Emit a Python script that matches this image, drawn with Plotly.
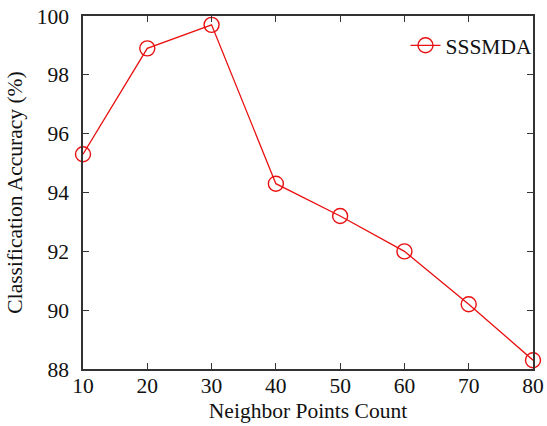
import plotly.graph_objects as go

# Neighbor count vs. classification accuracy
neighbor_counts = [10, 20, 30, 40, 50, 60, 70, 80]
accuracy_sssmda = [95.3, 98.9, 99.7, 94.3, 93.2, 92.0, 90.2, 88.3]
x_ticks = [10, 20, 30, 40, 50, 60, 70, 80]
y_ticks = [88, 90, 92, 94, 96, 98, 100]

RED = "#e81010"
AXIS = "#333333"
FONT = "Liberation Serif"
FS = 21.5

fig = go.Figure()
fig.add_trace(go.Scatter(
    x=neighbor_counts,
    y=accuracy_sssmda,
    mode="lines+markers",
    name="SSSMDA",
    line=dict(color=RED, width=1.3),
    marker=dict(symbol="circle-open", size=15, color=RED, line=dict(width=1.4, color=RED)),
    cliponaxis=False,
))

axis_common = dict(
    showline=True, linecolor=AXIS, linewidth=1.6, mirror="ticks",
    ticks="inside", ticklen=6, tickwidth=1.2, tickcolor=AXIS,
    showgrid=False, zeroline=False, automargin=False,
    tickfont=dict(family=FONT, size=FS, color="#111111"),
)

fig.update_layout(
    width=547, height=426,
    margin=dict(l=83, r=10, t=16, b=57),
    paper_bgcolor="white", plot_bgcolor="white",
    font=dict(family=FONT, color="#111111"),
    xaxis=dict(range=[10, 80], tickvals=x_ticks, ticklabelstandoff=-4,
               title=dict(text="Neighbor Points Count", font=dict(family=FONT, size=FS), standoff=6),
               **axis_common),
    yaxis=dict(range=[88, 100], tickvals=y_ticks, ticklabelstandoff=8,
               title=dict(text="Classification Accuracy (%)", font=dict(family=FONT, size=FS), standoff=8),
               **axis_common),
    legend=dict(x=1.01, y=0.975, xanchor="right", yanchor="top",
                bgcolor="rgba(0,0,0,0)", borderwidth=0,
                font=dict(family=FONT, size=FS, color="#111111")),
    showlegend=True,
)

fig.write_html("out.html")
